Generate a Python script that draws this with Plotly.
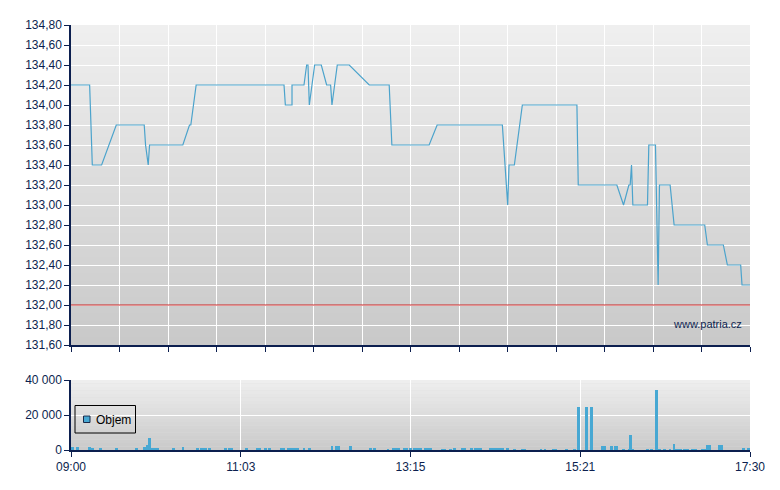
import plotly.graph_objects as go

# ---------------- data ----------------
price_times = ["09:00", "09:14", "09:16", "09:23", "09:34", "09:55", "09:56", "09:58", "09:59",
               "10:24", "10:29", "10:30", "10:34", "11:40", "11:41", "11:46", "11:46", "11:55",
               "11:57", "11:58", "11:59", "12:03", "12:08", "12:12", "12:15", "12:16", "12:20",
               "12:29", "12:44", "12:59", "13:01", "13:29", "13:35", "14:24", "14:28", "14:29",
               "14:33", "14:39", "15:20", "15:21", "15:50", "15:55", "15:59", "16:00", "16:01",
               "16:02", "16:13", "16:14", "16:19", "16:21", "16:22", "16:30", "16:33", "16:56",
               "16:58", "17:10", "17:13", "17:23", "17:24", "17:30"]
price_values = [134.20, 134.20, 133.40, 133.40, 133.80, 133.80, 133.60, 133.40, 133.60,
                133.60, 133.80, 133.80, 134.20, 134.20, 134.00, 134.00, 134.20, 134.20,
                134.40, 134.40, 134.00, 134.40, 134.40, 134.20, 134.20, 134.00, 134.40,
                134.40, 134.20, 134.20, 133.60, 133.60, 133.80, 133.80, 133.00, 133.40,
                133.40, 134.00, 134.00, 133.20, 133.20, 133.00, 133.20, 133.20, 133.40,
                133.00, 133.00, 133.60, 133.60, 132.20, 133.20, 133.20, 132.80, 132.80,
                132.60, 132.60, 132.40, 132.40, 132.20, 132.20]

vol_times = ["09:01", "09:05", "09:14", "09:16", "09:22", "09:34", "09:49", "09:55", "09:57",
             "09:59", "10:00", "10:02", "10:04", "10:05", "10:17", "10:24", "10:35", "10:38",
             "10:39", "10:41", "10:44", "10:56", "10:59", "11:01", "11:12", "11:20", "11:22",
             "11:26", "11:29", "11:38", "11:40", "11:43", "11:45", "11:46", "11:48", "11:50",
             "11:55", "11:59", "12:16", "12:19", "12:21", "12:30", "12:45", "12:48", "12:58",
             "13:02", "13:04", "13:06", "13:10", "13:12", "13:15", "13:18", "13:19", "13:21",
             "13:23", "13:26", "13:28", "13:30", "13:39", "13:41", "13:45", "13:48", "13:54",
             "13:56", "14:01", "14:04", "14:06", "14:08", "14:15", "14:16", "14:18", "14:20",
             "14:22", "14:24", "14:28", "14:33", "14:39", "14:41", "14:53", "14:56", "15:02",
             "15:04", "15:12", "15:18", "15:21", "15:27", "15:31", "15:39", "15:41", "15:46",
             "15:49", "15:50", "15:55", "15:59", "16:00", "16:02", "16:13", "16:16", "16:20",
             "16:22", "16:26", "16:30", "16:33", "16:35", "16:36", "16:38", "16:41", "16:43",
             "16:47", "16:49", "16:54", "16:56", "16:58", "17:00", "17:07", "17:09", "17:25",
             "17:29"]
vol_values = [1500, 1500, 1500, 800, 600, 600, 600, 1500, 3000,
              7000, 1200, 1200, 1200, 1200, 1200, 1500, 600, 600,
              600, 600, 600, 600, 600, 600, 600, 600, 600,
              600, 600, 600, 1200, 1200, 1200, 1200, 1200, 1200,
              1200, 600, 2300, 2300, 2300, 2300, 1200, 600, 400,
              1400, 1400, 1400, 1400, 1400, 1400, 1400, 1400, 1400,
              1400, 1400, 1400, 1400, 400, 400, 400, 800, 800,
              800, 800, 800, 800, 800, 800, 800, 800, 800,
              800, 800, 1400, 400, 400, 400, 400, 400, 400,
              400, 400, 400, 24300, 24300, 24300, 2500, 2500, 2500,
              2500, 2500, 400, 400, 8400, 400, 400, 400, 34300,
              400, 400, 400, 3700, 400, 400, 400, 400, 400,
              400, 400, 400, 400, 3100, 3100, 3100, 3100, 1400,
              1400]

prev_close = 132.00
price_ticks = [131.6, 131.8, 132.0, 132.2, 132.4, 132.6, 132.8, 133.0, 133.2, 133.4,
               133.6, 133.8, 134.0, 134.2, 134.4, 134.6, 134.8]
vol_ticks = [0, 20000, 40000]
time_tick_labels = ["09:00", "11:03", "13:15", "15:21", "17:30"]
session_open = "09:00"
session_close = "17:30"
legend_label = "Objem"


def to_min(s):
    h, m = s.split(":")
    oh, om = session_open.split(":")
    return (int(h) - int(oh)) * 60 + int(m) - int(om)


px_ = [to_min(t) for t in price_times]
vx_ = [to_min(t) for t in vol_times]
span = to_min(session_close)

NAVY = "#0c1f4f"
LINE_BLUE = "#4ba3cc"
BAR_BLUE = "#47a8d3"
FONT = "Liberation Sans, Arial, sans-serif"

# plot-area geometry (page has an 8px body margin)
ML, MT, PW, PH = 63, 17, 679, 425

fig = go.Figure()
fig.add_trace(go.Scatter(x=px_, y=price_values, mode="lines",
                         line=dict(color=LINE_BLUE, width=1.2),
                         showlegend=False, xaxis="x", yaxis="y", hoverinfo="skip"))
fig.add_trace(go.Bar(x=vx_, y=vol_values, name=legend_label, width=2.0,
                     marker=dict(color=BAR_BLUE, line=dict(width=0)),
                     xaxis="x2", yaxis="y2", showlegend=False))


def gradient(xref, yref, top, bottom, n=40):
    for i in range(n):
        f = (i + 0.5) / n
        v = round(bottom + (top - bottom) * f)
        fig.add_shape(type="rect", xref=xref, yref=yref, x0=0, x1=1,
                      y0=i / n, y1=(i + 1) / n, fillcolor=f"rgb({v},{v},{v})",
                      line=dict(width=0), layer="below")


gradient("x domain", "y domain", 239, 201)
gradient("x2 domain", "y2 domain", 239, 201, 20)

fig.add_shape(type="line", xref="x domain", yref="y", x0=0, x1=1,
              y0=prev_close, y1=prev_close, line=dict(color="#c82424", width=1), layer="above")

upper_ticks = [span * i / 14 for i in range(15)]
lower_ticks = [span * i / 4 for i in range(5)]

axis_common = dict(showline=True, linecolor=NAVY, linewidth=1.5, ticks="outside",
                   tickcolor=NAVY, ticklen=5, tickwidth=1,
                   gridcolor="white", gridwidth=1, zeroline=False,
                   tickfont=dict(family=FONT, size=12, color=NAVY))

fig.update_layout(
    width=780, height=490,
    margin=dict(l=ML, r=780 - ML - PW, t=MT, b=490 - MT - PH, autoexpand=False),
    paper_bgcolor="white", plot_bgcolor="#dddddd",
    separators=", ",
    bargap=0,
    xaxis=dict(axis_common, range=[0, span], tickvals=upper_ticks, showticklabels=False,
               anchor="y", domain=[0, 1]),
    yaxis=dict(axis_common, range=[131.6, 134.8], tickvals=price_ticks, tickformat=".2f",
               domain=[105 / PH, 1], anchor="x"),
    xaxis2=dict(axis_common, range=[0, span], tickvals=lower_ticks, ticktext=time_tick_labels,
                anchor="y2", domain=[0, 1]),
    yaxis2=dict(axis_common, range=[0, 40000], tickvals=vol_ticks, tickformat=",d",
                domain=[0, 70 / PH], anchor="x2"),
    showlegend=False,
)


# legend box drawn in plot-area pixel terms (converted to paper fractions)
def pxx(x):
    return (x - 71) / PW


def pxy(y):
    return (450 - y) / PH


fig.add_shape(type="rect", xref="paper", yref="paper", x0=pxx(75), x1=pxx(135.5),
              y0=pxy(433), y1=pxy(405.5), line=dict(color="black", width=1),
              fillcolor="rgba(0,0,0,0)", layer="above")
fig.add_shape(type="rect", xref="paper", yref="paper", x0=pxx(83.5), x1=pxx(90),
              y0=pxy(422.5), y1=pxy(416), line=dict(color="#1a2a4a", width=1),
              fillcolor=BAR_BLUE, layer="above")
fig.add_annotation(text=legend_label, xref="paper", yref="paper",
                   x=pxx(94), y=pxy(419.5), xanchor="left", yanchor="middle",
                   showarrow=False, font=dict(family=FONT, size=12, color="black"))

fig.add_annotation(text="www.patria.cz", xref="paper", yref="paper",
                   x=pxx(743.5), y=pxy(324), xanchor="right", yanchor="middle",
                   showarrow=False, font=dict(family=FONT, size=11, color=NAVY))

fig.write_html("out.html")
